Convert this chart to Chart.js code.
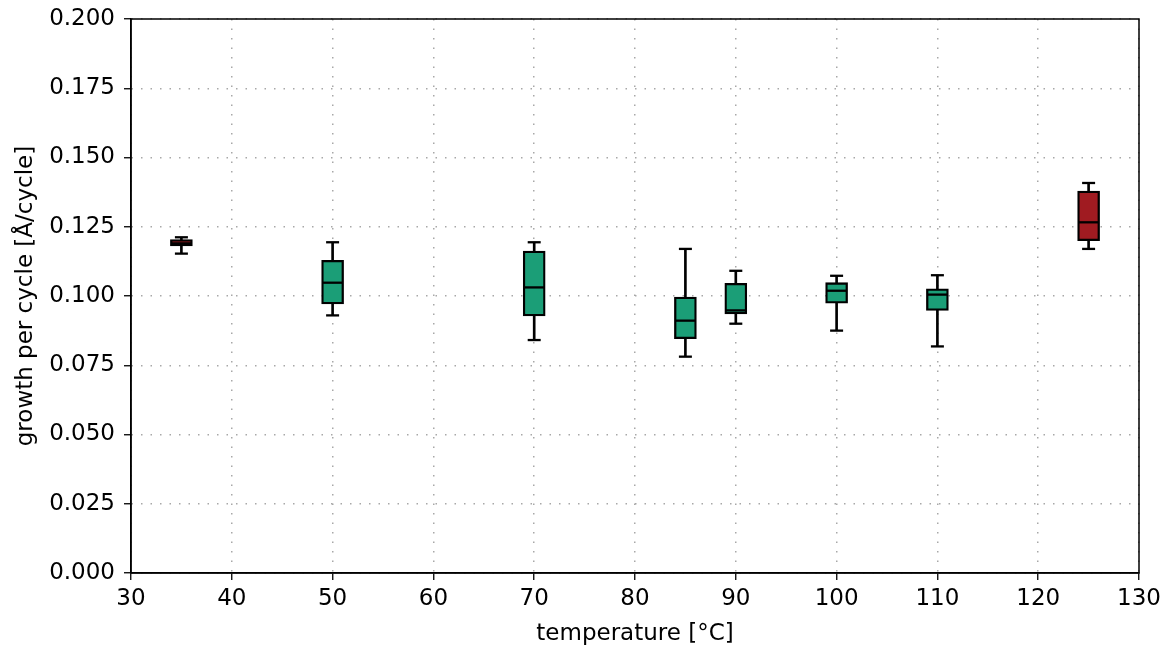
<!DOCTYPE html>
<html>
<head>
<meta charset="utf-8">
<script src="https://cdn.jsdelivr.net/npm/chart.js@4"></script>
<style>
  html, body { margin: 0; padding: 0; background: #fff; }
  #wrap { width: 1172px; height: 649px; }
</style>
</head>
<body>
<div id="wrap"><canvas id="grafica"></canvas></div>
<script>
// box plot values
var temperatures = [35, 50, 70, 85, 90, 100, 110, 125];
var whiskerLow  = [0.1153, 0.0930, 0.0841, 0.0781, 0.0900, 0.0875, 0.0818, 0.1170];
var quartile1   = [0.1181, 0.0971, 0.0928, 0.0846, 0.0935, 0.0974, 0.0948, 0.1200];
var medians     = [0.1190, 0.1048, 0.1031, 0.0911, 0.0948, 0.1019, 0.1005, 0.1266];
var quartile3   = [0.1204, 0.1129, 0.1162, 0.0996, 0.1046, 0.1048, 0.1026, 0.1379];
var whiskerHigh = [0.1212, 0.1194, 0.1194, 0.1170, 0.1091, 0.1073, 0.1075, 0.1408];
var outOfWindow = [true, false, false, false, false, false, false, true];

var xTicks = [30, 40, 50, 60, 70, 80, 90, 100, 110, 120, 130];
var yTicks = [0, 0.025, 0.05, 0.075, 0.1, 0.125, 0.15, 0.175, 0.2];

var colores = { green: '#1b9e77', red: '#a01b21', grid: '#a8a8a8' };

function pares(ys) {
  return temperatures.map(function (t, i) { return { x: t, y: ys[i] }; });
}

var marco = {
  id: 'marco',
  afterDraw: function (chart) {
    var a = chart.chartArea, ctx = chart.ctx;
    ctx.save();
    ctx.strokeStyle = '#000';
    ctx.lineWidth = 1.5;
    ctx.strokeRect(a.left, a.top, a.right - a.left, a.bottom - a.top);
    ctx.restore();
  }
};

var fuente = { family: 'DejaVu Sans', size: 23 };

new Chart(document.getElementById('grafica'), {
  type: 'bar',
  data: {
    datasets: [
      {
        type: 'bar',
        label: 'whiskers',
        data: temperatures.map(function (t, i) { return { x: t, y: [whiskerLow[i], whiskerHigh[i]] }; }),
        backgroundColor: '#000',
        borderWidth: 0,
        barThickness: 2,
        grouped: false,
        order: 3
      },
      {
        type: 'bar',
        label: 'boxes',
        data: temperatures.map(function (t, i) { return { x: t, y: [quartile1[i], quartile3[i]] }; }),
        backgroundColor: outOfWindow.map(function (r) { return r ? colores.red : colores.green; }),
        borderColor: '#000',
        borderWidth: 2.3,
        borderSkipped: false,
        barThickness: 22,
        grouped: false,
        order: 2
      },
      {
        type: 'scatter',
        label: 'medians',
        data: pares(medians),
        pointStyle: 'line',
        pointRadius: 10,
        borderColor: '#000',
        borderWidth: 2.3,
        order: 1
      },
      {
        type: 'scatter',
        label: 'caps low',
        data: pares(whiskerLow),
        pointStyle: 'line',
        pointRadius: 6.5,
        borderColor: '#000',
        borderWidth: 2.3,
        order: 1
      },
      {
        type: 'scatter',
        label: 'caps high',
        data: pares(whiskerHigh),
        pointStyle: 'line',
        pointRadius: 6.5,
        borderColor: '#000',
        borderWidth: 2.3,
        order: 1
      }
    ]
  },
  options: {
    responsive: true,
    maintainAspectRatio: false,
    animation: false,
    events: [],
    layout: { padding: { top: 19, right: 33, left: 0, bottom: 0 } },
    plugins: {
      legend: { display: false },
      tooltip: { enabled: false },
      title: { display: false }
    },
    scales: {
      x: {
        type: 'linear',
        min: 30,
        max: 130,
        offset: false,
        afterBuildTicks: function (s) { s.ticks = xTicks.map(function (v) { return { value: v }; }); },
        afterFit: function (s) { s.height = 76; s.paddingLeft = 0; s.paddingRight = 0; },
        grid: {
          offset: false,
          color: colores.grid, lineWidth: 1.5, tickLength: 7,
          tickColor: '#000', tickWidth: 1.3, tickBorderDash: []
        },
        border: { display: true, color: '#000', width: 1.5, dash: [1.5, 8] },
        ticks: { color: '#000', font: fuente, padding: 5, maxRotation: 0 },
        title: { display: true, text: 'temperature [°C]', color: '#000', font: fuente, padding: { top: 0, bottom: 1 } }
      },
      y: {
        type: 'linear',
        min: 0,
        max: 0.2,
        afterBuildTicks: function (s) { s.ticks = yTicks.map(function (v) { return { value: v }; }); },
        afterFit: function (s) { s.width = 131; s.paddingTop = 0; s.paddingBottom = 0; },
        grid: {
          color: colores.grid, lineWidth: 1.5, tickLength: 7,
          tickColor: '#000', tickWidth: 1.3, tickBorderDash: []
        },
        border: { display: true, color: '#000', width: 1.5, dash: [1.5, 8] },
        ticks: {
          color: '#000', font: fuente, padding: 9,
          callback: function (v) { return v.toFixed(3); }
        },
        title: { display: true, text: 'growth per cycle [Å/cycle]', color: '#000', font: fuente, padding: { top: 12, bottom: 0 } }
      }
    }
  },
  plugins: [marco]
});
</script>
</body>
</html>
